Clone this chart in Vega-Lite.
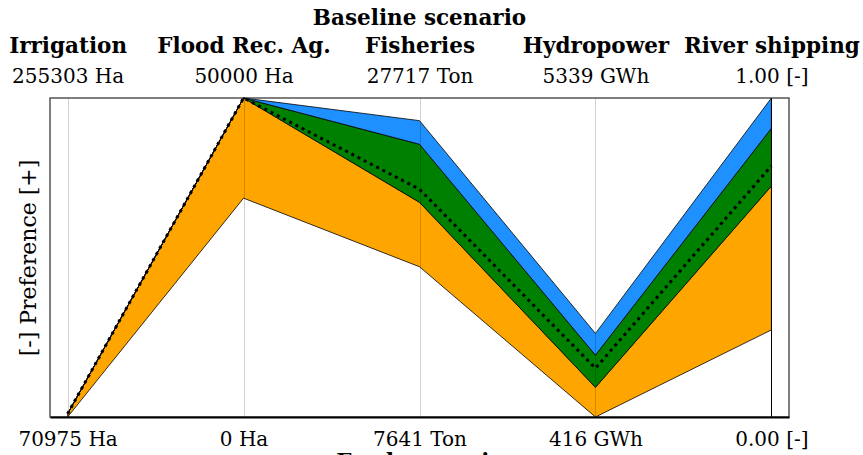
{
  "$schema": "https://vega.github.io/schema/vega-lite/v6.json",
  "width": 739,
  "height": 319,
  "autosize": "none",
  "padding": {"left": 50, "top": 98, "right": 74, "bottom": 38},
  "config": {"view": {"stroke": "#555", "strokeWidth": 1.5}, "font": "DejaVu Serif"},
  "title": {"text": "Baseline scenario", "font": "DejaVu Serif", "fontSize": 21.5, "fontWeight": "bold", "color": "black", "offset": 6},
  "datasets": {
    "bands": [
      {"criterion": "Irrigation", "band": "orange", "lo": 0, "hi": 0.01},
      {"criterion": "Flood Rec. Ag.", "band": "orange", "lo": 0.686, "hi": 1},
      {"criterion": "Fisheries", "band": "orange", "lo": 0.471, "hi": 0.673},
      {"criterion": "Hydropower", "band": "orange", "lo": 0, "hi": 0.093},
      {"criterion": "River shipping", "band": "orange", "lo": 0.273, "hi": 0.724},
      {"criterion": "Irrigation", "band": "green", "lo": 0.01, "hi": 0.01},
      {"criterion": "Flood Rec. Ag.", "band": "green", "lo": 1, "hi": 1},
      {"criterion": "Fisheries", "band": "green", "lo": 0.673, "hi": 0.855},
      {"criterion": "Hydropower", "band": "green", "lo": 0.093, "hi": 0.194},
      {"criterion": "River shipping", "band": "green", "lo": 0.724, "hi": 0.905},
      {"criterion": "Irrigation", "band": "blue", "lo": 0.01, "hi": 0.01},
      {"criterion": "Flood Rec. Ag.", "band": "blue", "lo": 1, "hi": 1},
      {"criterion": "Fisheries", "band": "blue", "lo": 0.855, "hi": 0.929},
      {"criterion": "Hydropower", "band": "blue", "lo": 0.194, "hi": 0.262},
      {"criterion": "River shipping", "band": "blue", "lo": 0.905, "hi": 1.0}
    ],
    "median": [
      {"criterion": "Irrigation", "value": 0.01},
      {"criterion": "Flood Rec. Ag.", "value": 1},
      {"criterion": "Fisheries", "value": 0.714},
      {"criterion": "Hydropower", "value": 0.153},
      {"criterion": "River shipping", "value": 0.787}
    ]
  },
  "resolve": {"axis": {"x": "independent", "y": "independent"}},
  "layer": [
    {
      "data": {"name": "bands"},
      "mark": {"type": "area", "stroke": "black", "strokeWidth": 0.8, "opacity": 1},
      "encoding": {
        "x": {
          "field": "criterion", "type": "nominal", "sort": null,
          "scale": {"type": "point", "padding": 0.1},
          "axis": {
            "orient": "bottom",
            "labelExpr": "{'Irrigation': '70975 Ha', 'Flood Rec. Ag.': '0 Ha', 'Fisheries': '7641 Ton', 'Hydropower': '416 GWh', 'River shipping': '0.00 [-]'}[datum.value]",
            "labelFont": "DejaVu Serif", "labelFontSize": 20, "labelColor": "black", "labelPadding": 12, "labelAngle": 0,
            "labelOverlap": false, "labelLimit": 0,
            "ticks": false, "domain": true, "domainColor": "black", "domainWidth": 2,
            "grid": true,
            "gridColor": "black",
            "gridOpacity": {"condition": {"test": "datum.value === 'River shipping'", "value": 1}, "value": 0.18},
            "gridWidth": 1,
            "zindex": 1,
            "title": "Food scenario", "titleFont": "DejaVu Serif", "titleFontSize": 21.5, "titleFontWeight": "bold", "titleColor": "black", "titlePadding": 2
          }
        },
        "y": {
          "field": "lo", "type": "quantitative", "stack": null,
          "scale": {"domain": [0, 1], "nice": false, "zero": false},
          "axis": {"title": "[-] Preference [+]", "labels": false, "ticks": false, "domain": false, "grid": false,
                   "titleFont": "DejaVu Serif", "titleFontSize": 22, "titleFontWeight": "normal", "titleColor": "black", "titlePadding": 10}
        },
        "y2": {"field": "hi"},
        "color": {
          "field": "band", "type": "nominal",
          "scale": {"domain": ["orange", "green", "blue"], "range": ["#FFA500", "#008000", "#1E90FF"]},
          "legend": null
        }
      }
    },
    {
      "data": {"name": "median"},
      "mark": {"type": "line", "color": "black", "strokeWidth": 3, "strokeDash": [3, 4], "strokeCap": "butt"},
      "encoding": {
        "x": {
          "field": "criterion", "type": "nominal", "sort": null,
          "scale": {"type": "point", "padding": 0.1},
          "axis": {
            "orient": "top", "labelFont": "DejaVu Serif", "labelFontWeight": "bold", "labelFontSize": 21.5,
            "labelColor": "black", "labelPadding": 41, "labelAngle": 0, "labelOverlap": false, "labelLimit": 0,
            "ticks": false, "domain": false, "grid": false, "title": null
          }
        },
        "y": {"field": "value", "type": "quantitative", "scale": {"domain": [0, 1], "nice": false, "zero": false}, "axis": null}
      }
    },
    {
      "data": {"name": "median"},
      "mark": {"type": "point", "opacity": 0},
      "encoding": {
        "x": {
          "field": "criterion", "type": "nominal", "sort": null,
          "scale": {"type": "point", "padding": 0.1},
          "axis": {
            "orient": "top",
            "labelExpr": "{'Irrigation': '255303 Ha', 'Flood Rec. Ag.': '50000 Ha', 'Fisheries': '27717 Ton', 'Hydropower': '5339 GWh', 'River shipping': '1.00 [-]'}[datum.value]",
            "labelFont": "DejaVu Serif", "labelFontSize": 20, "labelColor": "black", "labelPadding": 12, "labelAngle": 0,
            "labelOverlap": false, "labelLimit": 0,
            "ticks": false, "domain": false, "grid": false, "title": null
          }
        },
        "y": {"field": "value", "type": "quantitative", "scale": {"domain": [0, 1], "nice": false, "zero": false}, "axis": null}
      }
    }
  ]
}
